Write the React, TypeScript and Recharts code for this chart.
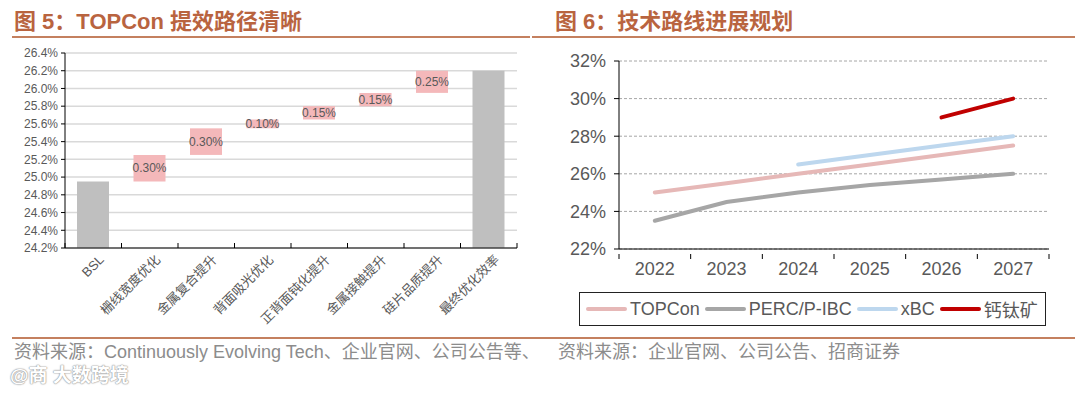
import React from 'react';
import {
  BarChart,
  Bar,
  XAxis,
  YAxis,
  CartesianGrid,
  Cell,
  LabelList,
  ComposedChart,
  Line,
  Legend,
} from 'recharts';

// 图5 waterfall
const steps = ['BSL', '栅线宽度优化', '金属复合提升', '背面吸光优化', '正背面钝化提升', '金属接触提升', '硅片品质提升', '最终优化效率'];
const bslEfficiency = 24.95;
const gains = [0.3, 0.3, 0.1, 0.15, 0.15, 0.25];
const effTicks = [24.2, 24.4, 24.6, 24.8, 25.0, 25.2, 25.4, 25.6, 25.8, 26.0, 26.2, 26.4];

// 图6 roadmap
const years = ['2022', '2023', '2024', '2025', '2026', '2027'];
const topcon = [25.0, 25.5, 26.0, 26.5, 27.0, 27.5];
const percIbc = [23.5, 24.5, 25.0, 25.4, 25.7, 26.0];
const xbc = [null, null, 26.5, 27.0, 27.5, 28.0];
const perovskite = [null, null, null, null, 29.0, 30.0];
const pctTicks = [22, 24, 26, 28, 30, 32];

const seriesNames = ['TOPCon', 'PERC/P-IBC', 'xBC', '钙钛矿'];
const seriesValues = [topcon, percIbc, xbc, perovskite];
const seriesColors = ['#E6B8B7', '#A6A6A6', '#BDD7EE', '#C00000'];

const TITLE_COLOR = '#B9643F';
const RULE_COLOR = '#C4805F';
const TEXT = '#595959';
const SANS = '"Liberation Sans", Arial, "Noto Sans CJK SC", sans-serif';
const CJK = '"Noto Sans CJK SC", sans-serif';

const round2 = (v: number) => Math.round(v * 100) / 100;

const waterfall = (() => {
  const floor = effTicks[0];
  const rows: any[] = [{ name: steps[0], range: [floor, bslEfficiency], gain: null, total: true }];
  let level = bslEfficiency;
  gains.forEach((g, i) => {
    const next = round2(level + g);
    rows.push({ name: steps[i + 1], range: [level, next], gain: g, total: false });
    level = next;
  });
  rows.push({ name: steps[steps.length - 1], range: [floor, level], gain: null, total: true });
  return rows;
})();

const roadmap = years.map((year, i) => {
  const row: any = { year };
  seriesNames.forEach((name, s) => {
    row[name] = seriesValues[s][i];
  });
  return row;
});

// Excel style: tick marks sit between categories, not under them
const EdgeMarks = ({ x, axisY, half, first, dir }: any) => {
  if (!half) return null;
  const y2 = axisY + dir * 5;
  return (
    <g>
      {first && <line x1={x - half} x2={x - half} y1={axisY} y2={y2} stroke="#000" />}
      <line x1={x + half} x2={x + half} y1={axisY} y2={y2} stroke="#000" />
    </g>
  );
};

const StepTick = (props: any) => {
  const { x, y, payload, index } = props;
  const isLatin = /^[A-Za-z]+$/.test(payload.value);
  return (
    <g>
      <EdgeMarks x={x} axisY={y - 8} half={payload.offset} first={index === 0} dir={-1} />
      <g transform={`translate(${x + 5},${y - 2}) rotate(-45)`}>
        <text x={0} y={0} dy="0.7em" textAnchor="end" fontSize={13} fill={TEXT} fontFamily={isLatin ? SANS : CJK}>
          {payload.value}
        </text>
      </g>
    </g>
  );
};

const YearTick = (props: any) => {
  const { x, y, payload, index } = props;
  return (
    <g>
      <EdgeMarks x={x} axisY={y - 8} half={payload.offset} first={index === 0} dir={1} />
      <text x={x} y={y} dy="0.71em" textAnchor="middle" fontSize={18} fill={TEXT} fontFamily={SANS}>
        {payload.value}
      </text>
    </g>
  );
};

const RoadmapLegend = () => (
  <div
    style={{
      boxSizing: 'border-box',
      width: 467,
      height: 34,
      border: '1.5px solid #222',
      display: 'flex',
      flexWrap: 'nowrap',
      alignItems: 'center',
      paddingLeft: 6,
      fontFamily: SANS,
      fontSize: 18,
      color: TEXT,
      background: '#fff',
      whiteSpace: 'nowrap',
      overflow: 'hidden',
    }}
  >
    {seriesNames.map((name, i) => (
      <div key={name} style={{ display: 'flex', alignItems: 'center', marginRight: 5, flexShrink: 0 }}>
        <svg width={41} height={6} style={{ marginRight: 3, flexShrink: 0 }}>
          <line x1={2} y1={3} x2={39} y2={3} stroke={seriesColors[i]} strokeWidth={4} strokeLinecap="round" />
        </svg>
        <span style={{ fontFamily: name === '钙钛矿' ? CJK : SANS }}>{name}</span>
      </div>
    ))}
  </div>
);

export default function App() {
  return (
    <div
      style={{
        position: 'absolute',
        left: 0,
        top: 0,
        width: 1080,
        height: 393,
        background: '#fff',
        overflow: 'hidden',
        fontFamily: SANS,
      }}
    >
      {/* titles */}
      <div style={{ position: 'absolute', left: 14, top: 8, fontSize: 22, fontWeight: 700, color: TITLE_COLOR, lineHeight: '27px', whiteSpace: 'nowrap' }}>
        图 5：TOPCon 提效路径清晰
      </div>
      <div style={{ position: 'absolute', left: 555, top: 8, fontSize: 22, fontWeight: 700, color: TITLE_COLOR, lineHeight: '27px', whiteSpace: 'nowrap' }}>
        图 6：技术路线进展规划
      </div>
      <div style={{ position: 'absolute', left: 12, top: 36, width: 518, height: 2, background: RULE_COLOR }} />
      <div style={{ position: 'absolute', left: 532, top: 36, width: 543, height: 2, background: RULE_COLOR }} />

      {/* left: waterfall */}
      <div style={{ position: 'absolute', left: 0, top: 0 }}>
        <BarChart width={540} height={330} data={waterfall} margin={{ top: 53, right: 23, left: 5, bottom: 7 }}>
          <CartesianGrid vertical={false} stroke="#D9D9D9" strokeWidth={1.5} />
          <XAxis
            dataKey="name"
            interval={0}
            height={75}
            tickLine={false}
            axisLine={{ stroke: '#000' }}
            tick={<StepTick />}
          />
          <YAxis
            domain={[effTicks[0], effTicks[effTicks.length - 1]]}
            ticks={effTicks}
            interval={0}
            width={60}
            tickFormatter={(v: number) => `${v.toFixed(1)}%`}
            tick={{ fontSize: 12, fill: TEXT }}
            tickSize={4}
            tickMargin={3}
            axisLine={{ stroke: '#000' }}
            tickLine={{ stroke: '#000' }}
          />
          <Bar dataKey="range" barSize={32} isAnimationActive={false}>
            {waterfall.map((row) => (
              <Cell key={row.name} fill={row.total ? '#BFBFBF' : '#F4B8BA'} />
            ))}
            <LabelList
              dataKey="gain"
              position="center"
              formatter={(v: any) => (v == null ? '' : `${Number(v).toFixed(2)}%`)}
              fill={TEXT}
              fontSize={12}
            />
          </Bar>
        </BarChart>
      </div>

      {/* right: roadmap */}
      <div style={{ position: 'absolute', left: 540, top: 0 }}>
        <ComposedChart width={540} height={335} data={roadmap} margin={{ top: 61, right: 31, left: 9, bottom: 9 }}>
          <CartesianGrid vertical={false} stroke="#A6A6A6" strokeDasharray="3 2" />
          <XAxis
            dataKey="year"
            scale="band"
            interval={0}
            height={43}
            tickLine={false}
            tickMargin={7}
            axisLine={{ stroke: '#000' }}
            tick={<YearTick />}
          />
          <YAxis
            domain={[pctTicks[0], pctTicks[pctTicks.length - 1]]}
            ticks={pctTicks}
            interval={0}
            width={70}
            tickFormatter={(v: number) => `${v}%`}
            tick={{ fontSize: 18, fill: TEXT }}
            tickSize={5}
            tickMargin={8}
            axisLine={{ stroke: '#000' }}
            tickLine={{ stroke: '#000' }}
          />
          {seriesNames.map((name, i) => (
            <Line
              key={name}
              type="linear"
              dataKey={name}
              stroke={seriesColors[i]}
              strokeWidth={4}
              strokeLinecap="round"
              dot={false}
              activeDot={false}
              isAnimationActive={false}
            />
          ))}
          <Legend verticalAlign="bottom" content={<RoadmapLegend />} wrapperStyle={{ left: 39, width: 467 }} />
        </ComposedChart>
      </div>

      {/* footer */}
      <div style={{ position: 'absolute', left: 12, top: 337, width: 1063, height: 2, background: RULE_COLOR }} />
      <div style={{ position: 'absolute', left: 14, top: 341, fontSize: 18, color: '#8C8C8C', whiteSpace: 'nowrap', lineHeight: '22px' }}>
        资料来源：Continuously Evolving Tech、企业官网、公司公告等、
      </div>
      <div style={{ position: 'absolute', left: 558, top: 341, fontSize: 18, color: '#8C8C8C', whiteSpace: 'nowrap', lineHeight: '22px' }}>
        资料来源：企业官网、公司公告、招商证券
      </div>
      <div
        style={{
          position: 'absolute',
          left: 10,
          top: 364,
          fontSize: 19,
          fontWeight: 700,
          color: '#fff',
          whiteSpace: 'nowrap',
          lineHeight: '24px',
          textShadow: '0 0 1px #999, 0 0 1px #999, 0 0 2px #aaa',
        }}
      >
        @商 大数跨境
      </div>
    </div>
  );
}
